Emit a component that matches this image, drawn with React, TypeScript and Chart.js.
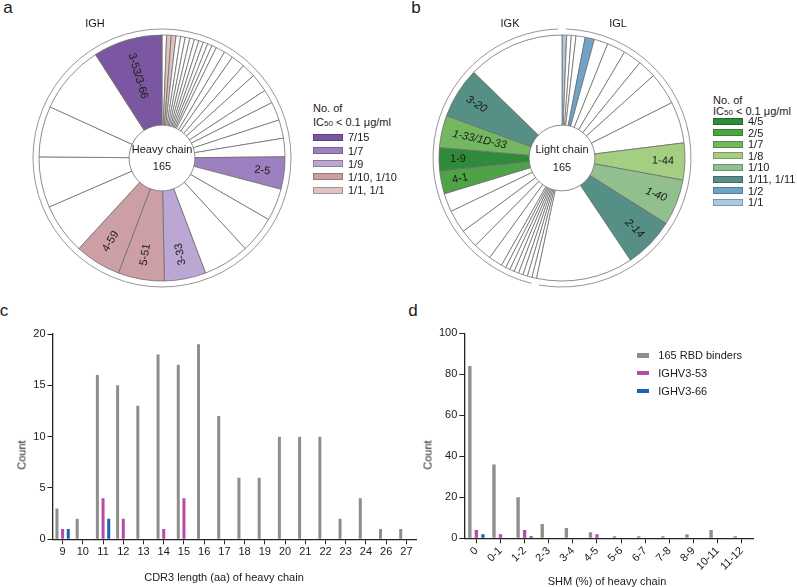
import React, { useEffect, useRef } from 'react';
import { Chart, registerables } from 'chart.js';

Chart.register(...registerables);

const FONT = '"Liberation Sans", Arial, Helvetica, sans-serif';
const WHITE = '#ffffff';
const INK = '#1a1a1a';

// ---------- Panel a: heavy-chain V genes, clockwise from 12 o'clock ----------
const heavyCounts = [1, 1, 1, 1, 1, 1, 1, 1, 1, 1, 1, 1, 2, 2, 3, 3, 4, 3, 4, 4, 4, 7, 7, 8, 10, 9, 10, 10, 11, 11, 11, 15, 15];
const heavyIC50 = ['', '1/1', '1/1', ...Array(18).fill(''), '1/7', '', '', '', '1/9', '1/10', '1/10', '', '', '', '', '7/15'];
const heavyGenes = ['', '', '', ...Array(18).fill(''), '2-5', '', '', '', '3-33', '5-51', '4-59', '', '', '', '', '3-53/3-66'];
const heavyLoci = ['IGH'];
const heavyLociCounts = [165];
const heavyLegend = ['7/15', '1/7', '1/9', '1/10, 1/10', '1/1, 1/1'];
const heavyPalette: Record<string, string> = {
  '7/15': '#7b56a1',
  '1/7': '#9c80bf',
  '1/9': '#bca6d4',
  '1/10': '#cc9fa5',
  '1/1': '#dfc4c1',
};

// ---------- Panel b: light-chain V genes, clockwise from 12 o'clock ----------
const lightCounts = [1, 1, 1, 2, 2, 3, 4, 4, 4, 7, 9, 8, 10, 11, 21, 1, 1, 1, 1, 1, 1, 1, 1, 3, 4, 4, 5, 4, 5, 5, 7, 11, 21];
const lightIC50 = ['1/1', '', '', '', '1/2', ...Array(6).fill(''), '1/8', '1/10', '1/11', ...Array(14).fill(''), '2/5', '4/5', '1/7', '1/11', ''];
const lightGenes = ['', '', '', '', '', ...Array(6).fill(''), '1-44', '1-40', '2-14', ...Array(14).fill(''), '4-1', '1-9', '1-33/1D-33', '3-20', ''];
const lightItalic = ['1-40', '2-14', '1-33/1D-33', '3-20'];
const lightLoci = ['IGL', 'IGK'];
const lightLociCounts = [88, 77];
const lightLegend = ['4/5', '2/5', '1/7', '1/8', '1/10', '1/11, 1/11', '1/2', '1/1'];
const lightPalette: Record<string, string> = {
  '4/5': '#2f8b3b',
  '2/5': '#4fa347',
  '1/7': '#73b760',
  '1/8': '#a4cf82',
  '1/10': '#91c08e',
  '1/11': '#568f85',
  '1/2': '#6fa3c7',
  '1/1': '#a9cae0',
};

// ---------- Panel c: CDR3 length ----------
const cdr3Lengths = ['9', '10', '11', '12', '13', '14', '15', '16', '17', '18', '19', '20', '21', '22', '23', '24', '26', '27'];
const cdr3All = [3, 2, 16, 15, 13, 18, 17, 19, 12, 6, 6, 10, 10, 10, 2, 4, 1, 1];
const cdr3V353 = [1, 0, 4, 2, 0, 1, 4, 0, 0, 0, 0, 0, 0, 0, 0, 0, 0, 0];
const cdr3V366 = [1, 0, 2, 0, 0, 0, 0, 0, 0, 0, 0, 0, 0, 0, 0, 0, 0, 0];

// ---------- Panel d: SHM ----------
const shmBins = ['0', '0-1', '1-2', '2-3', '3-4', '4-5', '5-6', '6-7', '7-8', '8-9', '10-11', '11-12'];
const shmAll = [84, 36, 20, 7, 5, 3, 1, 1, 1, 2, 4, 1];
const shmV353 = [4, 2, 4, 0, 0, 2, 0, 0, 0, 0, 0, 0];
const shmV366 = [2, 0, 1, 0, 0, 0, 0, 0, 0, 0, 0, 0];

const seriesNames = ['165 RBD binders', 'IGHV3-53', 'IGHV3-66'];
const seriesColors = ['#8e8e8e', '#b84aa8', '#1b63b5'];

function Txt({ x, y, size = 11, rot = 0, anchor = 'middle', italic = false, children }: any) {
  const tx = anchor === 'middle' ? '-50%' : anchor === 'end' ? '-100%' : '0';
  return (
    <div
      style={{
        position: 'absolute',
        left: x,
        top: y,
        transform: `translate(${tx}, -50%) rotate(${rot}deg)`,
        font: `${italic ? 'italic ' : ''}${size}px ${FONT}`,
        lineHeight: 1,
        whiteSpace: 'nowrap',
        color: INK,
      }}
    >
      {children}
    </div>
  );
}

function makePiePlugin(genes: string[], italic: string[], loci: number[], labelR: number, ringR: number) {
  return {
    id: 'pieExtras',
    afterDatasetsDraw(chart: any) {
      const ctx = chart.ctx;
      const arcs = chart.getDatasetMeta(0).data;
      if (!arcs.length) return;
      const p0 = arcs[0].getProps(['x', 'y'], true);
      const cx = p0.x;
      const cy = p0.y;
      ctx.save();
      // outer locus ring
      ctx.strokeStyle = '#8a8a8a';
      ctx.lineWidth = 0.9;
      const total = loci.reduce((a, b) => a + b, 0);
      const gap = loci.length > 1 ? 0.03 : 0;
      let acc = 0;
      loci.forEach((c) => {
        const a0 = -Math.PI / 2 + (acc / total) * Math.PI * 2;
        const a1 = -Math.PI / 2 + ((acc + c) / total) * Math.PI * 2;
        ctx.beginPath();
        if (gap === 0) ctx.arc(cx, cy, ringR, 0, Math.PI * 2);
        else ctx.arc(cx, cy, ringR, a0 + gap, a1 - gap);
        ctx.stroke();
        acc += c;
      });
      // gene labels along the radius
      arcs.forEach((arc: any, i: number) => {
        const text = genes[i];
        if (!text) return;
        const p = arc.getProps(['startAngle', 'endAngle'], true);
        const mid = (p.startAngle + p.endAngle) / 2;
        let theta = ((mid + Math.PI / 2) * 180) / Math.PI;
        theta = ((theta % 360) + 360) % 360;
        const out = theta < 150;
        ctx.save();
        ctx.translate(cx + Math.cos(mid) * labelR, cy + Math.sin(mid) * labelR);
        ctx.rotate(out ? mid : mid + Math.PI);
        ctx.textAlign = out ? 'right' : 'left';
        ctx.textBaseline = 'middle';
        ctx.font = `${italic.includes(text) ? 'italic ' : ''}11px ${FONT}`;
        ctx.fillStyle = INK;
        ctx.fillText(text, 0, 0);
        ctx.restore();
      });
      ctx.restore();
    },
  };
}

function Donut({ left, top, size, counts, ic50, genes, italic, palette, loci, labelR }: any) {
  const ref = useRef<HTMLCanvasElement>(null);
  useEffect(() => {
    const colors = ic50.map((k: string) => (k ? palette[k] : WHITE));
    const chart = new Chart(ref.current as HTMLCanvasElement, {
      type: 'doughnut',
      data: {
        labels: genes.map((g: string, i: number) => g || `v${i}`),
        datasets: [
          {
            data: counts,
            backgroundColor: colors,
            borderColor: '#6e6e6e',
            borderWidth: 0.8,
          },
        ],
      },
      options: {
        animation: false,
        responsive: false,
        devicePixelRatio: 1,
        radius: 123,
        cutout: 40,
        layout: { padding: 0 },
        plugins: { legend: { display: false }, tooltip: { enabled: false } },
      } as any,
      plugins: [makePiePlugin(genes, italic, loci, labelR, 129)],
    });
    return () => chart.destroy();
  }, []);
  return (
    <canvas
      ref={ref}
      width={size}
      height={size}
      style={{ position: 'absolute', left, top, width: size, height: size }}
    />
  );
}

function Bars({ left, top, width, height, labels, series, yMax, yStep, padTop, padRight, yWidth, xHeight, catPct, barPct, rotate }: any) {
  const ref = useRef<HTMLCanvasElement>(null);
  useEffect(() => {
    const tickFont = { family: FONT, size: 11 };
    const chart = new Chart(ref.current as HTMLCanvasElement, {
      type: 'bar',
      data: {
        labels,
        datasets: series.map((d: number[], i: number) => ({
          label: seriesNames[i],
          data: d,
          backgroundColor: seriesColors[i],
          borderWidth: 0,
          categoryPercentage: catPct,
          barPercentage: barPct,
        })),
      },
      options: {
        animation: false,
        responsive: false,
        devicePixelRatio: 1,
        layout: { padding: { top: padTop, right: padRight, left: 0, bottom: 0 } },
        plugins: { legend: { display: false }, tooltip: { enabled: false } },
        scales: {
          x: {
            offset: true,
            grid: { display: true, offset: false, drawOnChartArea: false, drawTicks: true, tickLength: 5, color: '#222', lineWidth: 1 },
            border: { display: true, color: '#222', width: 1.3 },
            ticks: {
              font: tickFont,
              color: INK,
              padding: 1,
              autoSkip: false,
              maxRotation: rotate,
              minRotation: rotate,
            },
            afterFit: (s: any) => {
              s.height = xHeight;
            },
          },
          y: {
            min: 0,
            max: yMax,
            grid: { display: true, drawOnChartArea: false, drawTicks: true, tickLength: 5, color: '#222', lineWidth: 1 },
            border: { display: true, color: '#222', width: 1.3 },
            ticks: { stepSize: yStep, font: tickFont, color: INK, padding: 2 },
            afterFit: (s: any) => {
              s.width = yWidth;
            },
          },
        },
      } as any,
    });
    return () => chart.destroy();
  }, []);
  return (
    <canvas
      ref={ref}
      width={width}
      height={height}
      style={{ position: 'absolute', left, top, width, height }}
    />
  );
}

function Legend({ x, y0, step, items, palette }: any) {
  return (
    <>
      {items.map((lab: string, i: number) => (
        <React.Fragment key={lab}>
          <div
            style={{
              position: 'absolute',
              left: x,
              top: y0 + i * step - 3.5,
              width: 30,
              height: 7,
              background: palette[lab.split(',')[0]],
              boxSizing: 'border-box',
              border: '0.5px solid rgba(0,0,0,0.25)',
            }}
          />
          <Txt x={x + 35} y={y0 + i * step} anchor="start">
            {lab}
          </Txt>
        </React.Fragment>
      ))}
    </>
  );
}

export default function App() {
  return (
    <div style={{ position: 'fixed', left: 0, top: 0, width: 797, height: 587, background: '#fff', overflow: 'hidden' }}>
      {/* panel letters */}
      <Txt x={8} y={7} size={17}>a</Txt>
      <Txt x={416} y={7} size={17}>b</Txt>
      <Txt x={4} y={309.5} size={17}>c</Txt>
      <Txt x={413} y={309.5} size={17}>d</Txt>

      {/* panel a */}
      <Donut left={12} top={8} size={300} counts={heavyCounts} ic50={heavyIC50} genes={heavyGenes} italic={[]} palette={heavyPalette} loci={heavyLociCounts} labelR={109} />
      <Txt x={95} y={23}>{heavyLoci[0]}</Txt>
      <Txt x={162} y={148.5}>Heavy chain</Txt>
      <Txt x={162} y={166}>165</Txt>
      <Txt x={313} y={108} anchor="start">No. of</Txt>
      <Txt x={313} y={121.5} anchor="start">
        IC<span style={{ fontSize: 8 }}>50</span> &lt; 0.1 μg/ml
      </Txt>
      <Legend x={313} y0={137.3} step={13.2} items={heavyLegend} palette={heavyPalette} />

      {/* panel b */}
      <Donut left={412} top={8} size={300} counts={lightCounts} ic50={lightIC50} genes={lightGenes} italic={lightItalic} palette={lightPalette} loci={lightLociCounts} labelR={112} />
      <Txt x={510} y={23}>{lightLoci[1]}</Txt>
      <Txt x={618} y={23}>{lightLoci[0]}</Txt>
      <Txt x={562} y={149}>Light chain</Txt>
      <Txt x={562} y={166.5}>165</Txt>
      <Txt x={713} y={100} anchor="start">No. of</Txt>
      <Txt x={713} y={111} anchor="start">
        IC<span style={{ fontSize: 8 }}>50</span> &lt; 0.1 μg/ml
      </Txt>
      <Legend x={713} y0={121} step={11.6} items={lightLegend} palette={lightPalette} />

      {/* panel c */}
      <Bars
        left={0}
        top={290}
        width={430}
        height={297}
        labels={cdr3Lengths}
        series={[cdr3All, cdr3V353, cdr3V366]}
        yMax={20}
        yStep={5}
        padTop={44}
        padRight={13.5}
        yWidth={52.5}
        xHeight={47.7}
        catPct={0.84}
        barPct={0.53}
        rotate={0}
      />
      <Txt x={21.7} y={455} rot={-90}>Count</Txt>
      <Txt x={224} y={577}>CDR3 length (aa) of heavy chain</Txt>

      {/* panel d */}
      <Bars
        left={400}
        top={290}
        width={397}
        height={297}
        labels={shmBins}
        series={[shmAll, shmV353, shmV366]}
        yMax={100}
        yStep={20}
        padTop={43.3}
        padRight={43.2}
        yWidth={64.3}
        xHeight={48.7}
        catPct={0.81}
        barPct={0.52}
        rotate={45}
      />
      <Txt x={428} y={455} rot={-90}>Count</Txt>
      <Txt x={607} y={580.5}>SHM (%) of heavy chain</Txt>
      {seriesNames.map((n, i) => (
        <React.Fragment key={n}>
          <div style={{ position: 'absolute', left: 637.3, top: 353 + i * 17.8, width: 12, height: 4.5, background: seriesColors[i] }} />
          <Txt x={658.3} y={355.2 + i * 17.8} anchor="start">{n}</Txt>
        </React.Fragment>
      ))}
    </div>
  );
}
